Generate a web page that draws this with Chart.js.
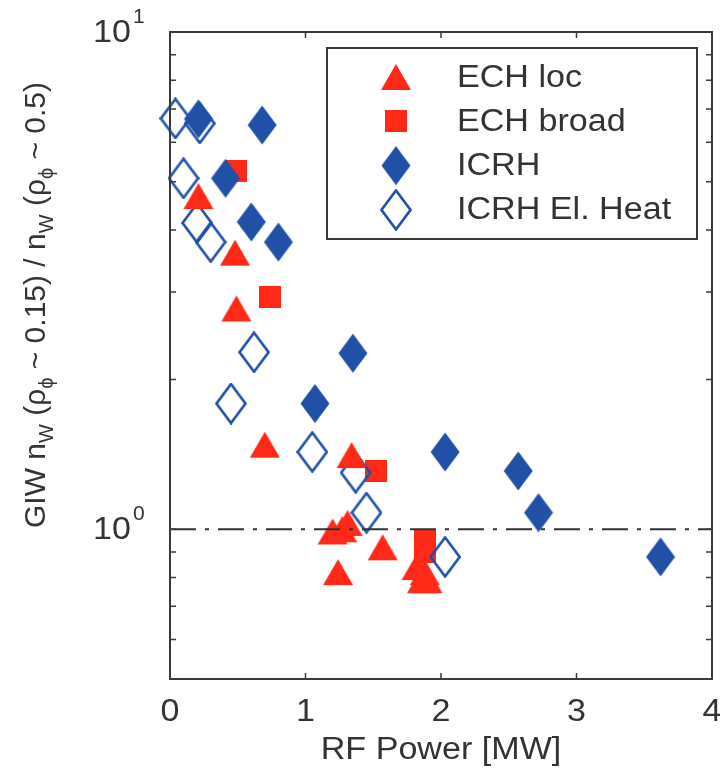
<!DOCTYPE html>
<html>
<head>
<meta charset="utf-8">
<script src="https://cdn.jsdelivr.net/npm/chart.js@4.4.1/dist/chart.umd.min.js"></script>
<style>
  html, body { margin: 0; padding: 0; background: #fff; overflow: hidden; }
  canvas { display: block; }
</style>
</head>
<body>
<canvas id="giw-chart" width="720" height="776"></canvas>
<script>
// ECH loc (triangles)
const echLocX = [0.21, 0.48, 0.49, 0.70, 1.34, 1.20, 1.27, 1.31, 1.24, 1.57, 1.82, 1.86, 1.90, 1.88];
const echLocY = [4.68, 3.60, 2.78, 1.48, 1.41, 0.99, 1.00, 1.03, 0.82, 0.92, 0.84, 0.79, 0.79, 0.82];
// ECH broad (squares)
const echBroadX = [0.49, 0.74, 1.52, 1.88, 1.88];
const echBroadY = [5.25, 2.93, 1.31, 0.95, 0.90];
// ICRH (filled diamonds)
const icrhX = [0.21, 0.68, 0.41, 0.60, 0.80, 1.35, 1.07, 2.03, 2.57, 2.72, 3.62];
const icrhY = [6.69, 6.50, 5.08, 4.15, 3.78, 2.26, 1.79, 1.43, 1.31, 1.08, 0.88];
// ICRH El. Heat (open diamonds)
const icrhElX = [0.04, 0.22, 0.10, 0.20, 0.30, 0.62, 0.45, 1.05, 1.37, 1.45, 2.03];
const icrhElY = [6.70, 6.55, 5.08, 4.13, 3.78, 2.27, 1.79, 1.43, 1.30, 1.08, 0.88];

const seriesNames = ['ECH loc', 'ECH broad', 'ICRH', 'ICRH El. Heat'];
const refLineX = [0, 4];
const refLineY = [1, 1];
const xTicks = [0, 1, 2, 3, 4];
const yTicks = [0.5, 0.6, 0.7, 0.8, 0.9, 1, 2, 3, 4, 5, 6, 7, 8, 9, 10];
const yLabelled = [1, 10];
const xTitle = 'RF Power [MW]';

const RED = '#fe2a17';
const BLUE = '#2150a6';
const INK = '#333';
const FONT = '"Liberation Sans", Arial, Helvetica, sans-serif';
const STRETCH = 1.1; // the source text is a little wider than Liberation Sans

// marker images, MATLAB-like shapes
function makeMarker(kind, color) {
    const c = document.createElement('canvas');
    const g = c.getContext('2d');
    if (kind === 'tri') {
        c.width = 32; c.height = 28;
        g.fillStyle = color;
        g.beginPath(); g.moveTo(1, 27); g.lineTo(16, 1); g.lineTo(31, 27); g.closePath(); g.fill();
    } else if (kind === 'sq') {
        c.width = 22; c.height = 22;
        g.fillStyle = color; g.fillRect(0, 0, 22, 22);
    } else {
        c.width = 32; c.height = 42;
        g.beginPath(); g.moveTo(16, 1.5); g.lineTo(30.5, 21); g.lineTo(16, 40.5); g.lineTo(1.5, 21); g.closePath();
        if (kind === 'dia') { g.fillStyle = color; g.fill(); }
        else { g.strokeStyle = color; g.lineWidth = 2.6; g.stroke(); }
    }
    return c;
}

const markers = [makeMarker('tri', RED), makeMarker('sq', RED), makeMarker('dia', BLUE), makeMarker('open', BLUE)];
const pts = (xs, ys) => xs.map((x, i) => ({ x: x, y: ys[i] }));

// text drawn a bit wider, left-anchored, centred or right-anchored
function wideText(ctx, txt, x, y, align) {
    const w = ctx.measureText(txt).width * STRETCH;
    const x0 = align === 'center' ? x - w / 2 : (align === 'right' ? x - w : x);
    ctx.save();
    ctx.translate(x0, y);
    ctx.scale(STRETCH, 1);
    ctx.textAlign = 'left';
    ctx.fillText(txt, 0, 0);
    ctx.restore();
}

// frame, inward ticks, custom legend and axis texts
const decor = {
    id: 'decor',
    afterDatasetsDraw(chart) {
        const ctx = chart.ctx;
        const a = chart.chartArea;
        const xs = chart.scales.x, ys = chart.scales.y;
        ctx.save();
        ctx.strokeStyle = '#3a3a3a';
        ctx.lineWidth = 2;
        ctx.strokeRect(a.left, a.top, a.right - a.left, a.bottom - a.top);

        ctx.lineWidth = 1.5;
        ctx.beginPath();
        xTicks.slice(1, -1).forEach(v => {
            const px = xs.getPixelForValue(v);
            ctx.moveTo(px, a.bottom); ctx.lineTo(px, a.bottom - 6);
            ctx.moveTo(px, a.top); ctx.lineTo(px, a.top + 6);
        });
        yTicks.slice(1, -1).forEach(v => {
            const py = ys.getPixelForValue(v);
            ctx.moveTo(a.left, py); ctx.lineTo(a.left + 6, py);
            ctx.moveTo(a.right, py); ctx.lineTo(a.right - 6, py);
        });
        ctx.stroke();

        // legend
        const lx = a.right - 15, ly = a.top + 16, lw = 370, lh = 191;
        ctx.fillStyle = '#fff';
        ctx.fillRect(lx - lw, ly, lw, lh);
        ctx.lineWidth = 2;
        ctx.strokeStyle = '#3a3a3a';
        ctx.strokeRect(lx - lw, ly, lw, lh);
        ctx.font = '31px ' + FONT;
        ctx.fillStyle = INK;
        ctx.textBaseline = 'middle';
        seriesNames.forEach((name, i) => {
            const cy = ly + 29 + i * 44.3;
            const m = markers[i];
            ctx.drawImage(m, lx - lw + 69 - m.width / 2, cy - m.height / 2);
            wideText(ctx, name, lx - lw + 130, cy + 1, 'left');
        });

        // x tick labels and title
        xTicks.forEach(v => wideText(ctx, String(v), xs.getPixelForValue(v), a.bottom + 33, 'center'));
        wideText(ctx, xTitle, (a.left + a.right) / 2, 750, 'center');

        // y tick labels 10^n
        yLabelled.forEach(v => {
            const py = ys.getPixelForValue(v);
            ctx.font = '31px ' + FONT;
            ctx.textBaseline = 'middle';
            wideText(ctx, '10', a.left - 39, py + 1, 'right');
            ctx.font = '21px ' + FONT;
            ctx.textAlign = 'left';
            ctx.textBaseline = 'alphabetic';
            ctx.fillText(String(Math.round(Math.log10(v))), a.left - 37, py - 9);
        });

        // y axis title with subscripts
        const segs = [
            ['GIW n', 0], ['W', 1], [' (\u03c1', 0], ['\u03d5', 1], [' ~ 0.15) / n', 0],
            ['W', 1], [' (\u03c1', 0], ['\u03d5', 1], [' ~ 0.5)', 0]
        ];
        const fMain = '30px ' + FONT, fSub = '20px ' + FONT + ', "DejaVu Sans"';
        let total = 0;
        segs.forEach(s => { ctx.font = s[1] ? fSub : fMain; total += ctx.measureText(s[0]).width; });
        ctx.translate(37, 305);
        ctx.rotate(-Math.PI / 2);
        ctx.textAlign = 'left';
        ctx.textBaseline = 'middle';
        let cx = -total / 2;
        segs.forEach(s => {
            ctx.font = s[1] ? fSub : fMain;
            ctx.fillText(s[0], cx, s[1] ? 10 : 0);
            cx += ctx.measureText(s[0]).width;
        });
        ctx.restore();
    }
};

new Chart(document.getElementById('giw-chart'), {
    type: 'scatter',
    data: {
        datasets: [
            { label: seriesNames[0], data: pts(echLocX, echLocY), pointStyle: markers[0], pointRadius: 14, order: 1, clip: false },
            { label: seriesNames[1], data: pts(echBroadX, echBroadY), pointStyle: markers[1], pointRadius: 11, order: 4, clip: false },
            { label: seriesNames[2], data: pts(icrhX, icrhY), pointStyle: markers[2], pointRadius: 16, order: 3, clip: false },
            { label: seriesNames[3], data: pts(icrhElX, icrhElY), pointStyle: markers[3], pointRadius: 16, order: 2, clip: false },
            {
                type: 'line', label: 'ref', data: pts(refLineX, refLineY),
                borderColor: '#333', borderWidth: 2, borderDash: [26, 9, 4, 9],
                pointRadius: 0, order: 0, fill: false
            }
        ]
    },
    options: {
        responsive: false,
        animation: false,
        events: [],
        layout: { autoPadding: false, padding: { left: 170, top: 32, right: 8, bottom: 0 } },
        plugins: { legend: { display: false }, tooltip: { enabled: false } },
        scales: {
            x: {
                type: 'linear', min: 0, max: 4,
                afterBuildTicks: s => { s.ticks = xTicks.map(v => ({ value: v })); },
                afterFit: s => { s.height = 97; },
                grid: { display: false, drawTicks: false },
                border: { display: false },
                ticks: { display: false }
            },
            y: {
                type: 'logarithmic', min: 0.5, max: 10,
                afterBuildTicks: s => { s.ticks = yTicks.map(v => ({ value: v })); },
                grid: { display: false, drawTicks: false },
                border: { display: false },
                ticks: { display: false }
            }
        }
    },
    plugins: [decor]
});
</script>
</body>
</html>
